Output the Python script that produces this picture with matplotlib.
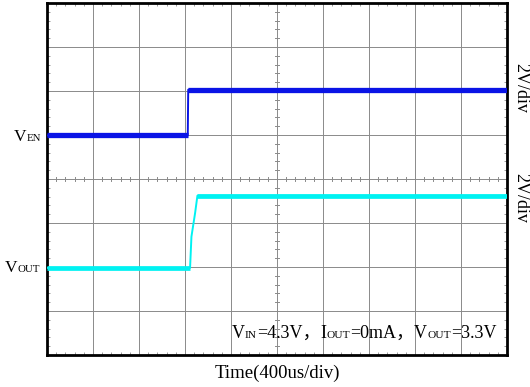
import matplotlib
matplotlib.use("Agg")
import matplotlib.pyplot as plt
import numpy as np

matplotlib.rcParams['font.family'] = ['Liberation Serif', 'Noto Sans CJK SC']

# time in divisions (400us/div), level in divisions (2V/div), scope screen 10 x 8
EN_T = [0.0, 3.06, 3.07, 10.0]
EN_V = [4.99, 4.99, 6.03, 6.03]

OUT_T = [0.0, 3.11, 3.14, 3.22, 3.27, 10.0]
OUT_V = [1.98, 1.98, 2.69, 3.23, 3.62, 3.62]

N_XDIV = 10
N_YDIV = 8

EN_COLOR = "#0a14e6"
OUT_COLOR = "#00f2f2"

FIG_W, FIG_H = 530, 387


def draw_runs(fig, x_px, y_px, runs, ha="left"):
    """Lay out text pieces of different sizes on one baseline (pixel coords from top-left)."""
    renderer = fig.canvas.get_renderer()
    items = []
    for s, size in runs:
        t = fig.text(0, 0, s, fontsize=size, va="baseline", ha="left")
        w = t.get_window_extent(renderer).width
        items.append((t, w))
    total = sum(w for _, w in items)
    x = x_px - total if ha == "right" else (x_px - total / 2 if ha == "center" else x_px)
    for t, w in items:
        t.set_position((x / FIG_W, 1 - y_px / FIG_H))
        x += w


def draw_trace(ax, t, v, color, lw_flat):
    t = np.asarray(t)
    v = np.asarray(v)
    # thin line for the whole trace, fat band on the flat parts (scope persistence)
    ax.plot(t, v, color=color, lw=1.4, zorder=3)
    for i in range(len(t) - 1):
        if v[i] == v[i + 1]:
            ax.plot(t[i:i + 2], v[i:i + 2], color=color, lw=lw_flat,
                    solid_capstyle="butt", zorder=3)


fig = plt.figure(figsize=(FIG_W / 100, FIG_H / 100), dpi=100)
ax = fig.add_axes([47 / FIG_W, 1 - 355 / FIG_H, 460 / FIG_W, 352 / FIG_H])

ax.set_xlim(0, N_XDIV)
ax.set_ylim(0, N_YDIV)

# grid
for i in range(1, N_XDIV):
    ax.axvline(i, color="#8a8a8a", lw=0.7, zorder=1)
for j in range(1, N_YDIV):
    ax.axhline(j, color="#8a8a8a", lw=0.7, zorder=1)

# small graticule ticks on the centre lines
xs = np.arange(0, N_XDIV + 0.01, 0.2)
ys = np.arange(0, N_YDIV + 0.01, 0.2)
ax.plot(np.repeat(xs, 3), np.tile([N_YDIV / 2 - 0.05, N_YDIV / 2 + 0.05, np.nan], len(xs)),
        color="#8a8a8a", lw=0.7, zorder=1)
ax.plot(np.tile([N_XDIV / 2 - 0.05, N_XDIV / 2 + 0.05, np.nan], len(ys)), np.repeat(ys, 3),
        color="#8a8a8a", lw=0.7, zorder=1)

# traces
draw_trace(ax, EN_T, EN_V, EN_COLOR, 3.8)
draw_trace(ax, OUT_T, OUT_V, OUT_COLOR, 3.4)

# frame and border ticks
for sp in ax.spines.values():
    sp.set_linewidth(2)
    sp.set_color("black")
ax.set_xticks([])
ax.set_yticks([])
ax.set_xticks(xs, minor=True)
ax.set_yticks(ys, minor=True)
ax.tick_params(which="minor", direction="in", length=2, width=0.6, color="#8a8a8a",
               top=True, right=True, labelbottom=False, labelleft=False)

# channel labels
draw_runs(fig, 41, 141, [("V", 12.5), ("EN", 7.8)], ha="right")
draw_runs(fig, 40, 272, [("V", 12.5), ("OUT", 7.8)], ha="right")

# scale labels
fig.text(521 / FIG_W, 1 - 88 / FIG_H, "2V/div", rotation=-90, fontsize=13,
         ha="center", va="center")
fig.text(521 / FIG_W, 1 - 198 / FIG_H, "2V/div", rotation=-90, fontsize=13,
         ha="center", va="center")

# condition text
draw_runs(fig, 232, 338, [("V", 13), ("IN", 8.2), ("=4.3V，", 13), ("I", 13), ("OUT", 8.2),
                          ("=0mA，", 13), ("V", 13), ("OUT", 8.2), ("=3.3V", 13)])

fig.text(277 / FIG_W, 1 - 378 / FIG_H, "Time(400us/div)", fontsize=13.5,
         ha="center", va="baseline")

fig.savefig("out.png", dpi=100)
